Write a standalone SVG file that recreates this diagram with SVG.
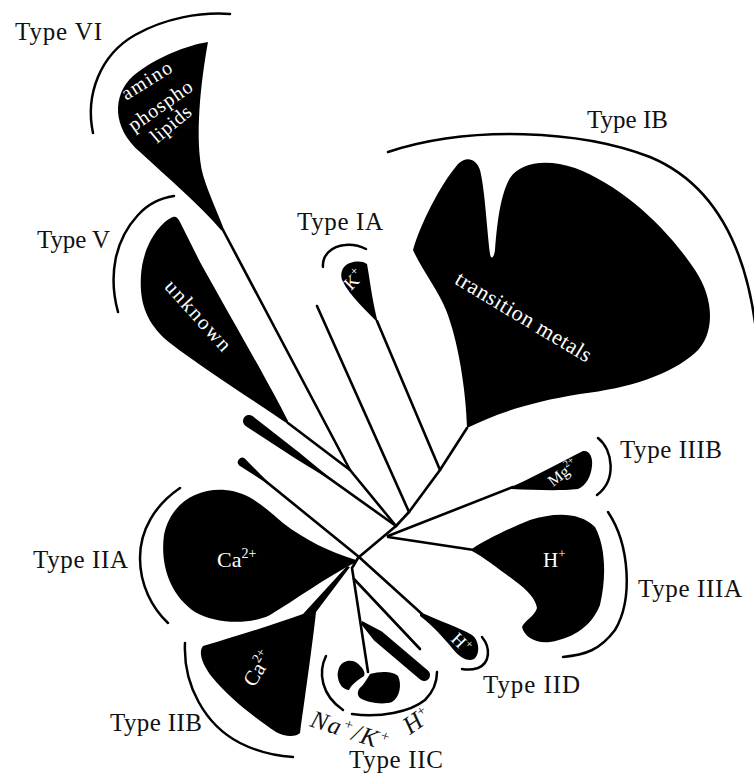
<svg xmlns="http://www.w3.org/2000/svg" width="754" height="774" viewBox="0 0 754 774">
<style>
.blob{fill:#000;stroke:none}
.arc{fill:none;stroke:#000;stroke-width:2.5;stroke-linecap:round}
.ln{fill:none;stroke:#000;stroke-width:2.6;stroke-linecap:round;stroke-linejoin:round}
.lbl{font-family:"Liberation Serif","Times New Roman",serif;font-size:25px;fill:#111}
.in{font-family:"Liberation Serif","Times New Roman",serif;fill:#fff}
.it{font-style:italic}
</style>
<rect width="754" height="774" fill="#fff"/>

<g id="connectors">
  <path class="ln" d="M223,230 L350,470"/>
  <path class="ln" d="M288,423 L350,470 L396,526"/>
  <path class="ln" d="M249,421 L396,526"/>
  <path class="ln" d="M317,306 L409,512"/>
  <path class="ln" d="M377,321 L440,470"/>
  <path class="ln" d="M359,557 L396,526 L409,512 L440,470 L467,428"/>
  <path class="ln" d="M242,462 L359,557"/>
  <path class="ln" d="M388,536 L513,487"/>
  <path class="ln" d="M388,537 L474,550"/>
  <path class="ln" d="M359,557 L422,614"/>
  <path class="ln" d="M358,558 L352,568 L368,672"/>
  <path class="ln" d="M354,579 L420,649"/>
</g>

<g id="typeVI">
  <path class="blob" d="M208,42 C201,80 194,140 203,175 C209,195 218,213 225,232 L221,230 C200,205 168,178 140,152 C112,128 112,95 133,76 C156,57 188,45 208,42 Z"/>
  <path class="arc" d="M93,133 C85,95 100,55 135,35 C165,18 200,12 230,14"/>
  <text class="lbl" x="15" y="40" textLength="87">Type VI</text>
  <text class="in" font-size="20" text-anchor="middle" textLength="56" transform="translate(150,86) rotate(-32)">amino</text>
  <text class="in" font-size="20" text-anchor="middle" textLength="74" transform="translate(164,111) rotate(-35)">phospho</text>
  <text class="in" font-size="20" text-anchor="middle" textLength="47" transform="translate(175,129) rotate(-40)">lipids</text>
</g>

<g id="typeV">
  <path class="blob" d="M173,217 C160,222 143,245 141,275 C139,305 148,325 170,343 C205,370 250,398 288,424 L288,421 C270,385 235,325 200,262 L180,222 C178,218 176,216 173,217 Z"/>
  <path class="arc" d="M118,312 C108,275 115,240 138,215 C148,204 160,198 174,196"/>
  <text class="lbl" x="37" y="248" textLength="73">Type V</text>
  <text class="in" font-size="21" text-anchor="middle" textLength="88" transform="translate(193,320) rotate(48)">unknown</text>
</g>

<g id="tadpoles">
  <path class="blob" d="M252.5,416.1 L299.8,453.1 L338.5,484.9 L295.8,458.7 L245.5,425.9 A6,6 0 0,1 252.5,416.1 Z"/>
  <path class="blob" d="M244.8,458.5 L273,487.2 L239.2,465.5 A4.5,4.5 0 0,1 244.8,458.5 Z"/>
</g>

<g id="typeIA">
  <path class="blob" d="M345,266 C350,261 362,260 367,264 C370,280 372,300 378,323 C368,312 350,296 343,282 C340,276 341,270 345,266 Z"/>
  <path class="arc" d="M323,267 C322,255 332,246 345,245 C353,244 360,246 366,249"/>
  <text class="lbl" x="297" y="230" textLength="86">Type IA</text>
  <text class="in" font-size="18" transform="translate(351,291) rotate(-45)">K<tspan font-size="12" dy="-8">+</tspan></text>
</g>

<g id="typeIB">
  <path class="blob" d="M467,428 C466,390 458,340 446,310 C438,290 422,270 413,250 C420,225 440,185 458,164 C466,156 476,158 480,170 C485,190 487,230 490,254 C491,260 494,258 495,250 C497,225 500,195 510,178 C520,163 545,158 575,168 C620,185 665,225 695,270 C715,300 715,335 695,353 C670,375 630,388 580,394 C530,402 495,414 467,428 Z"/>
  <path class="arc" d="M388,152 C470,125 580,130 650,157 C710,182 745,240 756,330"/>
  <text class="lbl" x="587" y="128" textLength="81">Type IB</text>
  <text class="in" font-size="22" text-anchor="middle" textLength="155" transform="translate(520,323) rotate(31)">transition metals</text>
</g>

<g id="typeIIIB">
  <path class="blob" d="M511,487 C530,479 555,465 583,451 C590,450 593,458 592,466 C591,476 586,486 578,489 C560,491 535,490 511,489 Z"/>
  <path class="arc" d="M598,438 C613,450 617,480 597,495"/>
  <text class="lbl" x="620" y="458" textLength="102">Type IIIB</text>
  <text class="in" font-size="16" transform="translate(553,487) rotate(-38)">Mg<tspan font-size="10" dy="-7">2+</tspan></text>
</g>

<g id="typeIIIA">
  <path class="blob" d="M472,549 C485,540 510,528 530,520 C555,512 580,512 595,527 C605,545 607,575 600,605 C592,625 575,638 550,642 C535,644 524,636 522,627 C525,620 535,616 537,608 C536,600 528,590 515,581 C500,570 485,558 472,551 Z"/>
  <path class="arc" d="M608,512 C630,545 633,600 615,630 C600,650 585,655 563,657"/>
  <text class="lbl" x="638" y="597" textLength="104">Type IIIA</text>
  <text class="in" font-size="21" x="543" y="567">H<tspan font-size="13" dy="-9">+</tspan></text>
</g>

<g id="typeIID">
  <path class="blob" d="M420,612 C440,621 460,628 472,635 C480,641 480,655 474,659 C468,662 460,658 452,648 C443,637 432,625 420,616 Z"/>
  <path class="arc" d="M482,637 C491,648 490,663 478,668 C472,670 467,670 462,669"/>
  <text class="lbl" x="483" y="693" textLength="97">Type IID</text>
  <text class="in" font-size="18" transform="translate(450,640) rotate(45)">H<tspan font-size="12" dy="-7">+</tspan></text>
</g>

<g id="typeIIC">
  <path class="blob" d="M339,668 C342,660 352,659 357,663 C362,667 366,672 364,676 C358,680 352,684 349,690 C344,690 339,685 338,678 C337,674 338,671 339,668 Z"/>
  <path class="blob" d="M370,674 C380,671 393,671 398,676 C402,684 400,697 392,702 C383,705 368,703 360,698 C356,694 358,689 362,686 C366,681 368,677 370,674 Z"/>
  <path class="blob" d="M362,621 L381.9,631.4 L427.9,670.4 A6,6 0 0,1 420.1,679.6 L374.1,640.6 L361,624 Z"/>
  <path class="arc" d="M326,656 C318,672 321,695 343,710"/>
  <path class="arc" d="M352,714 C380,718 410,712 425,700 C433,692 437,682 437,672"/>
  <text class="lbl" x="349" y="768" textLength="94">Type IIC</text>
  <text class="lbl it" font-size="22" letter-spacing="1.5" transform="translate(309,726) rotate(18)">Na<tspan font-size="15" dy="-9">+</tspan><tspan dy="9">/K</tspan><tspan font-size="15" dy="-9">+</tspan></text>
  <text class="lbl it" font-size="20" transform="translate(410,735) rotate(-35)">H<tspan font-size="14" dy="-9">+</tspan></text>
</g>

<g id="typeIIA">
  <path class="blob" d="M356,560 C330,552 305,540 283,523 C265,508 250,492 225,490 C195,488 170,505 164,535 C160,565 170,595 195,612 C215,624 250,625 270,615 C295,600 325,578 356,562 Z"/>
  <path class="arc" d="M180,488 C155,505 140,530 140,558 C140,585 152,608 168,623"/>
  <text class="lbl" x="33" y="568" textLength="95">Type IIA</text>
  <text class="in" font-size="22" x="217" y="567">Ca<tspan font-size="14" dy="-9">2+</tspan></text>
</g>

<g id="typeIIB">
  <path class="blob" d="M350,567 L316,612 C313,640 306,690 300,733 C296,737 285,737 276,732 C255,718 228,697 212,677 C202,664 198,652 203,646 C240,635 275,624 303,614 L347,566 Z"/>
  <path class="arc" d="M185,643 C183,685 205,725 240,743 C258,752 275,756 293,757"/>
  <text class="lbl" x="110" y="731" textLength="92">Type IIB</text>
  <text class="in" font-size="21" transform="translate(254,688) rotate(-58)">Ca<tspan font-size="13" dy="-9">2+</tspan></text>
</g>
</svg>
